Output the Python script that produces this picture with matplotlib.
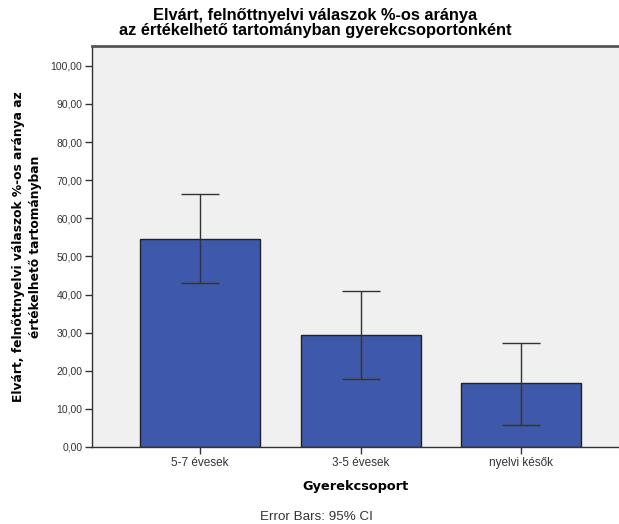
import matplotlib.pyplot as plt
import numpy as np

plt.rcParams['font.family'] = ['Liberation Sans', 'DejaVu Sans']

groups = ["5-7 évesek", "3-5 évesek", "nyelvi késők"]
means = [54.6, 29.4, 16.7]
ci_low = [43.0, 17.8, 5.9]
ci_high = [66.4, 40.9, 27.2]
yticks = [0, 10, 20, 30, 40, 50, 60, 70, 80, 90, 100]

fig = plt.figure(figsize=(6.19, 5.24), dpi=100)
ax = fig.add_axes([92 / 619, 1 - 447 / 524, 1 - 92 / 619, (447 - 46) / 524])
ax.set_facecolor('#f0f0f0')

x = np.arange(len(groups))
means_arr = np.array(means)
yerr = [means_arr - np.array(ci_low), np.array(ci_high) - means_arr]
ax.bar(x, means, width=0.747, color='#3e58ac', edgecolor='#222222', linewidth=1, zorder=2)
ax.errorbar(x, means, yerr=yerr, fmt='none', ecolor='#333333', elinewidth=1,
            capsize=13.7, capthick=1, zorder=3)

ax.set_xlim(-0.672, 2.609)
ax.set_ylim(0, 105.2)
ax.set_xticks(x)
ax.set_xticklabels(groups, fontsize=8.5, color='#333333')
ax.set_yticks(yticks)
ax.set_yticklabels([f"{v:.2f}".replace('.', ',') for v in yticks], fontsize=7.5, color='#333333')
ax.tick_params(axis='both', length=5, width=1, color='#333333', pad=2)

for side in ['left', 'bottom']:
    ax.spines[side].set_color('#333333')
    ax.spines[side].set_linewidth(1)
ax.spines['top'].set_color('#555555')
ax.spines['top'].set_linewidth(2)
ax.spines['right'].set_visible(False)

ax.set_xlabel("Gyerekcsoport", fontsize=9.3, fontweight='bold', labelpad=8,
              family=['DejaVu Sans'])
ax.set_ylabel("Elvárt, felnőttnyelvi válaszok %-os aránya az\nértékelhető tartományban",
              fontsize=8.8, fontweight='bold', labelpad=6, linespacing=1.4,
              family=['DejaVu Sans'])

fig.text(315 / 619, 1 - 23 / 524,
         "Elvárt, felnőttnyelvi válaszok %-os aránya\naz értékelhető tartományban gyerekcsoportonként",
         ha='center', va='center', fontsize=11.8, fontweight='bold', linespacing=1.0)
fig.text(316 / 619, 1 - 517 / 524, "Error Bars: 95% CI", ha='center', va='center',
         fontsize=9.6, color='#333333')

fig.savefig('out.png', dpi=100)
